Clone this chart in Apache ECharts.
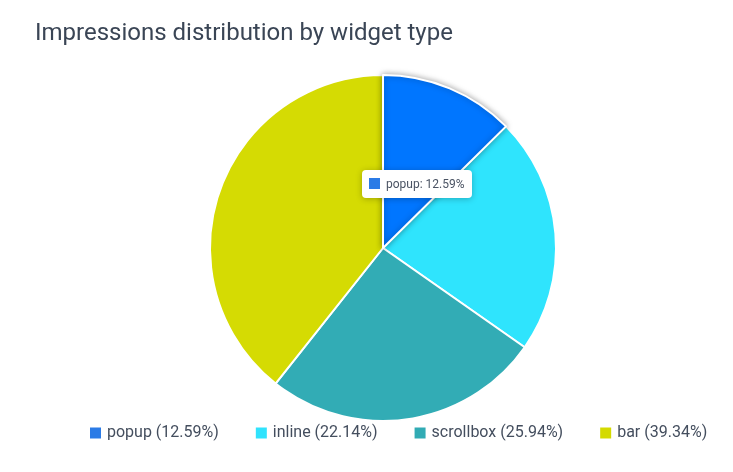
<!DOCTYPE html>
<html>
<head>
<meta charset="utf-8">
<script src="https://cdn.jsdelivr.net/npm/echarts@6/dist/echarts.min.js"></script>
<style>
  html, body { margin: 0; padding: 0; background: #fff; }
  #chart { width: 733px; height: 472px; }
</style>
</head>
<body>
<div id="chart"></div>
<script>
// widget types and their share of impressions (%)
const widgetTypes = ['popup', 'inline', 'scrollbox', 'bar'];
const sharePct = [12.59, 22.14, 25.94, 39.34];
const sliceColors = ['#006cf5', '#2fe4fd', '#32acb5', '#d5db03'];
const legendColors = ['#2b7be6', '#30e3fd', '#31abb4', '#d4da00'];

const chart = echarts.init(document.getElementById('chart'));

const option = {
  animation: false,
  textStyle: { fontFamily: 'Roboto' },
  title: {
    text: 'Impressions distribution by widget type',
    left: 30,
    top: 17,
    textStyle: { fontSize: 24, fontWeight: 'normal', color: '#3a4555', fontFamily: 'Roboto' }
  },
  tooltip: {
    trigger: 'item',
    alwaysShowContent: true,
    transitionDuration: 0,
    position: [362, 170],
    padding: [5, 7],
    backgroundColor: '#fff',
    borderWidth: 0,
    extraCssText: 'box-shadow: 0 1px 6px rgba(0,0,0,0.25); border-radius: 4px;',
    textStyle: { fontSize: 12, color: '#4a5363', fontFamily: 'Roboto' },
    formatter: p => '<span style="display:inline-block;width:11px;height:11px;margin-right:6px;vertical-align:-1px;background:'
      + legendColors[p.dataIndex] + '"></span>' + p.name + ': ' + sharePct[p.dataIndex].toFixed(2) + '%'
  },
  legend: {
    bottom: 26,
    left: 83,
    icon: 'rect',
    itemWidth: 13,
    itemHeight: 13,
    itemGap: 35,
    textStyle: { fontSize: 16, color: '#444e5e', fontFamily: 'Roboto' },
    data: widgetTypes.map((n, i) => ({ name: n, itemStyle: { color: legendColors[i] } })),
    formatter: name => name + ' (' + sharePct[widgetTypes.indexOf(name)].toFixed(2) + '%)'
  },
  series: [{
    type: 'pie',
    center: [383, 248],
    radius: 173,
    startAngle: 90,
    clockwise: true,
    label: { show: false },
    labelLine: { show: false },
    itemStyle: { borderColor: '#fff', borderWidth: 2 },
    emphasis: {
      scale: false,
      itemStyle: { shadowBlur: 6, shadowColor: 'rgba(0,0,0,0.35)' }
    },
    data: widgetTypes.map((n, i) => ({ name: n, value: sharePct[i], itemStyle: { color: sliceColors[i] } }))
  }]
};

chart.setOption(option);
chart.dispatchAction({ type: 'highlight', seriesIndex: 0, dataIndex: 0 });
chart.dispatchAction({ type: 'showTip', seriesIndex: 0, dataIndex: 0 });
</script>
</body>
</html>
